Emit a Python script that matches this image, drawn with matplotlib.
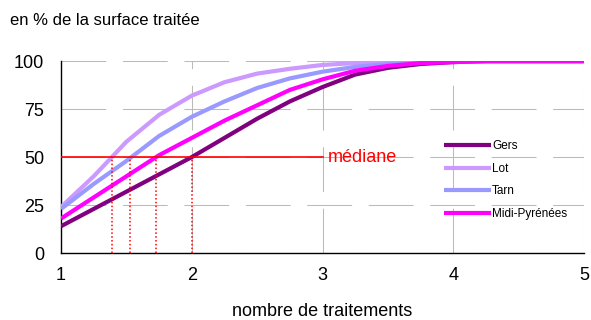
import matplotlib
matplotlib.use("Agg")
from matplotlib import pyplot as plt

plt.rcParams['font.family'] = ['Liberation Sans', 'DejaVu Sans']

# nombre de traitements
nb_traitements = [1, 1.25, 1.5, 1.75, 2, 2.25, 2.5, 2.75, 3, 3.25, 3.5, 3.75, 4, 4.25, 4.5, 5]

# cumul en % de la surface traitee
gers = [14, 23, 32, 41, 50, 60, 70, 79, 86.5, 93, 96.5, 98.5, 99.5, 100, 100, 100]
lot = [24, 40, 58, 72, 82, 89, 93.5, 96, 98, 99, 99.5, 100, 100, 100, 100, 100]
tarn = [23, 36, 48, 61, 71, 79, 86, 91, 94.5, 97, 98.5, 99.3, 99.7, 100, 100, 100]
midi_pyr = [18, 29, 40, 51, 60, 69, 77, 85, 90.5, 95, 97.5, 99, 99.5, 100, 100, 100]

series = [("Gers", gers, "#800080"),
          ("Lot", lot, "#CC99FF"),
          ("Tarn", tarn, "#9999FF"),
          ("Midi-Pyrénées", midi_pyr, "#FF00FF")]

# nombre de traitements median (Lot, Tarn, Midi-Pyrenees, Gers)
medianes = [1.39, 1.53, 1.73, 2.0]
niveau_median = 50

fig = plt.figure(figsize=(5.91, 3.2), dpi=100)
ax = fig.add_axes([0.1032, 0.209, 0.885, 0.6])

for nom, vals, col in series:
    ax.plot(nb_traitements, vals, color=col, lw=3, label=nom, solid_capstyle='butt', zorder=3)

ax.plot([1, 3], [niveau_median, niveau_median], color="#FF0000", lw=1.2, zorder=4)
for m in medianes:
    ax.plot([m, m], [0, niveau_median], color="#FF0000", lw=1.1, linestyle=(0, (1, 1.5)), zorder=4)
ax.text(3.04, niveau_median, "médiane", color="#FF0000", fontsize=13, va="center", ha="left")

ax.set_xlim(1, 5)
ax.set_ylim(0, 100)
ax.set_xticks([1, 2, 3, 4, 5])
ax.set_yticks([0, 25, 50, 75, 100])
ax.tick_params(axis='both', length=0, labelsize=13)
ax.tick_params(axis='x', pad=10)
ax.tick_params(axis='y', pad=12)
ax.grid(True, color="#BBBBBB", lw=0.75, linestyle=(0, (43, 16)), zorder=0)
ax.set_axisbelow(True)

ax.spines['top'].set_visible(False)
ax.spines['right'].set_visible(False)
ax.spines['left'].set_linewidth(1)
ax.spines['bottom'].set_linewidth(1)

ax.set_xlabel("nombre de traitements", fontsize=13, labelpad=14)
fig.text(0.017, 0.935, "en % de la surface traitée", fontsize=12, va="center", ha="left")

leg = ax.legend(loc="center left", bbox_to_anchor=(0.723, 0.38), frameon=False, fontsize=8.5,
                handlelength=4, handletextpad=0.1, labelspacing=0.9, borderaxespad=0)

plt.savefig("out.png", dpi=100)
plt.close()
